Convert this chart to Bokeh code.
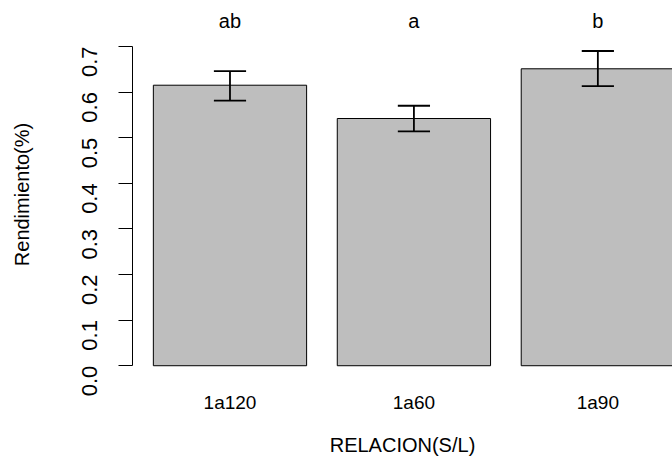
import math
from bokeh.plotting import figure
from bokeh.models import Range1d, FixedTicker, ColumnDataSource
from bokeh.core.properties import value
from bokeh.embed import file_html
from bokeh.resources import INLINE

# ---- data ----
categories = ["1a120", "1a60", "1a90"]
means = [0.615, 0.542, 0.651]
lower = [0.581, 0.514, 0.613]
upper = [0.646, 0.570, 0.690]
letters = ["ab", "a", "b"]
y_ticks = [0.0, 0.1, 0.2, 0.3, 0.4, 0.5, 0.6, 0.7]

# R barplot layout: width 1, space 0.2
BAR_W = 1.0
SPACE = 0.2
centers = [SPACE + i * (BAR_W + SPACE) + BAR_W / 2 for i in range(len(categories))]
CAP = 0.105
LETTER_Y = 0.755
FONT = "Liberation Sans"

src = ColumnDataSource(dict(
    x=centers, top=means, lo=lower, hi=upper, lab=letters,
    cl=[c - CAP for c in centers], cr=[c + CAP for c in centers],
))

p = figure(width=672, height=458, output_backend="svg", toolbar_location=None,
           x_range=Range1d(0.064, 3.587), y_range=Range1d(-0.028, 0.7788),
           min_border_left=132, min_border_right=0, min_border_top=10,
           min_border_bottom=79)
p.outline_line_color = None
p.xgrid.visible = False
p.ygrid.visible = False
p.background_fill_color = "white"
p.border_fill_color = "white"

p.vbar(x="x", width=BAR_W, top="top", bottom=0, source=src,
       fill_color="#BEBEBE", line_color="black", line_width=1)
p.segment(x0="x", y0="lo", x1="x", y1="hi", source=src, line_color="black", line_width=1.8)
p.segment(x0="cl", y0="hi", x1="cr", y1="hi", source=src, line_color="black", line_width=1.8)
p.segment(x0="cl", y0="lo", x1="cr", y1="lo", source=src, line_color="black", line_width=1.8)

p.text(x="x", y=LETTER_Y, text="lab", source=src, text_font=value(FONT),
       text_font_size="20px", text_align="center", text_baseline="middle",
       text_color="black")

# x axis
xa = p.xaxis[0]
xa.ticker = FixedTicker(ticks=centers)
xa.major_label_overrides = {c: n for c, n in zip(centers, categories)}
xa.axis_line_color = None
xa.major_tick_line_color = None
xa.minor_tick_line_color = None
xa.major_label_standoff = 7
xa.major_label_text_font = FONT
xa.major_label_text_font_size = "19px"
xa.major_label_text_color = "black"
xa.axis_label = "RELACION(S/L)"
xa.axis_label_text_font = FONT
xa.axis_label_text_font_size = "20px"
xa.axis_label_text_font_style = "normal"
xa.axis_label_text_color = "black"
xa.axis_label_standoff = 18

# y axis
ya = p.yaxis[0]
ya.ticker = FixedTicker(ticks=y_ticks)
ya.major_label_overrides = {t: f"{t:.1f}" for t in y_ticks}
ya.bounds = (0, 0.7)
ya.axis_line_color = "black"
ya.major_tick_line_color = "black"
ya.minor_tick_line_color = None
ya.major_tick_in = 0
ya.major_tick_out = 14
ya.major_label_standoff = 29
ya.major_label_orientation = math.pi / 2
ya.major_label_text_font = FONT
ya.major_label_text_font_size = "22px"
ya.major_label_text_color = "black"
ya.axis_label = "Rendimiento(%)"
ya.axis_label_text_font = FONT
ya.axis_label_text_font_size = "20px"
ya.axis_label_text_font_style = "normal"
ya.axis_label_text_color = "black"
ya.axis_label_standoff = 39

open("out.html", "w").write(file_html(p, INLINE))
